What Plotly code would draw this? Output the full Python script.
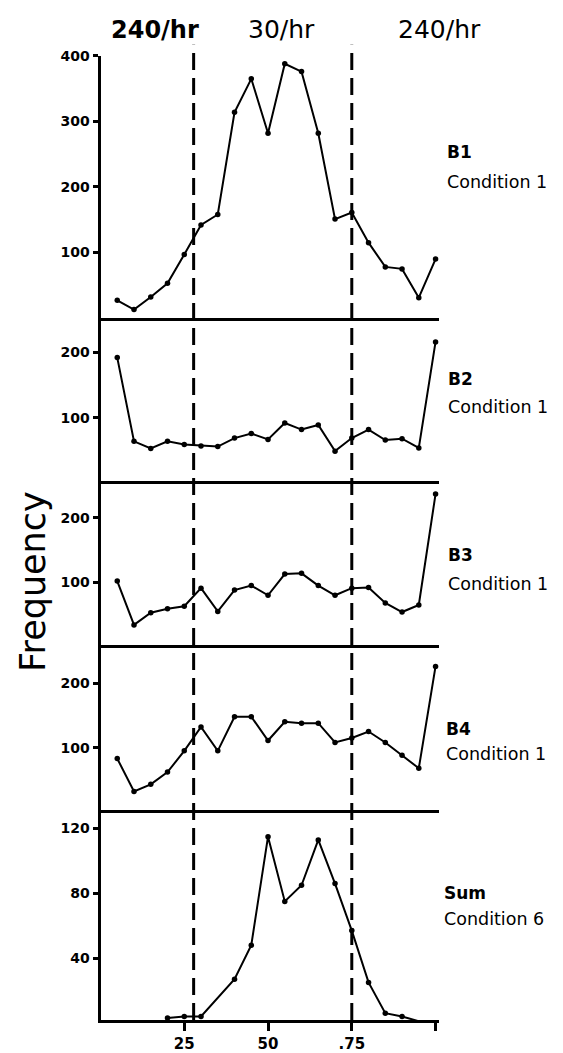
import plotly.graph_objects as go

# ---------------- data ----------------
x_bins = [0.05, 0.10, 0.15, 0.20, 0.25, 0.30, 0.35, 0.40, 0.45, 0.50,
          0.55, 0.60, 0.65, 0.70, 0.75, 0.80, 0.85, 0.90, 0.95, 1.00]

b1_cond1 = [27, 13, 32, 53, 97, 142, 158, 314, 365, 282,
            388, 376, 282, 151, 161, 115, 78, 75, 31, 90]
b2_cond1 = [192, 64, 53, 64, 59, 57, 56, 69, 76, 67,
            92, 82, 89, 49, 69, 82, 66, 68, 54, 216]
b3_cond1 = [102, 34, 53, 59, 63, 91, 55, 88, 95, 80,
            113, 114, 95, 80, 91, 92, 68, 54, 65, 237]
b4_cond1 = [83, 32, 43, 62, 95, 132, 95, 148, 148, 111,
            140, 138, 138, 108, 115, 125, 108, 88, 68, 226]

sum_x = [0.20, 0.25, 0.30, 0.40, 0.45, 0.50, 0.55, 0.60, 0.65, 0.70,
         0.75, 0.80, 0.85, 0.90, 0.95]
sum_cond6 = [3, 4, 4, 27, 48, 115, 75, 85, 113, 86,
             57, 25, 6, 4, 1]

panel_names = ["B1", "B2", "B3", "B4", "Sum"]
panel_conditions = ["Condition 1", "Condition 1", "Condition 1", "Condition 1", "Condition 6"]
panel_ticks = [[100, 200, 300, 400], [100, 200], [100, 200], [100, 200], [40, 80, 120]]

rate_labels = ["240/hr", "30/hr", "240/hr"]
boundaries = [0.278, 0.75]
x_tickvals = [0.25, 0.50, 0.75, 1.00]
x_ticktext = ["25", "50", ".75", ""]
y_title = "Frequency"

# ---------------- layout geometry (pixels) ----------------
W, H = 563, 1053
def fy(py):
    return 1 - py / H

x_left_px, x_right_px = 100.5, 438.9
x_range = [0, 1.01]

# (top px, bottom px, y range)
panels = [
    (48.3, 312.7, [0, 400]),
    (314.0, 477.0, [3.5, 250.5]),
    (477.3, 642.7, [2.5, 257.0]),
    (642.7, 809.0, [3.1, 258.9]),
    (809.0, 1020.7, [1.8, 131.4]),
]

series = [(x_bins, b1_cond1), (x_bins, b2_cond1), (x_bins, b3_cond1),
          (x_bins, b4_cond1), (sum_x, sum_cond6)]

fig = go.Figure()
layout = dict(
    width=W, height=H,
    margin=dict(l=0, r=0, t=0, b=0),
    paper_bgcolor="white", plot_bgcolor="white",
    showlegend=False,
    font=dict(family="DejaVu Sans", color="black"),
)

tickfont = dict(family="DejaVu Sans", size=14, color="black", weight="bold")

for i, ((top, bot, yr), (xs, ys)) in enumerate(zip(panels, series)):
    n = "" if i == 0 else str(i + 1)
    fig.add_trace(go.Scatter(
        x=xs, y=ys, mode="lines+markers",
        xaxis="x" + n, yaxis="y" + n,
        line=dict(color="black", width=2),
        marker=dict(color="black", size=5.5),
        cliponaxis=False,
    ))
    last = (i == len(panels) - 1)
    layout["xaxis" + n] = dict(
        domain=[x_left_px / W, x_right_px / W], range=x_range,
        anchor="y" + n, showgrid=False, zeroline=False,
        showline=True, linecolor="black", linewidth=3,
        ticks="outside" if last else "", ticklen=8, tickwidth=2.5, tickcolor="black",
        tickvals=x_tickvals if last else [], ticktext=x_ticktext if last else [],
        showticklabels=last, tickfont=dict(family="DejaVu Sans", size=15, color="black", weight="bold"),
        fixedrange=True,
    )
    layout["yaxis" + n] = dict(
        domain=[fy(bot), fy(top)], range=yr,
        anchor="x" + n, showgrid=False, zeroline=False,
        showline=True, linecolor="black", linewidth=3,
        ticks="outside", ticklen=5, tickwidth=2.5, tickcolor="black",
        tickvals=panel_ticks[i], ticktext=[str(v) for v in panel_ticks[i]],
        tickfont=tickfont, fixedrange=True,
    )

fig.update_layout(**layout)

# dashed boundary lines
for bx in boundaries:
    fig.add_shape(type="line", xref="x", yref="paper",
                  x0=bx, x1=bx, y0=fy(1020.7), y1=fy(37),
                  line=dict(color="black", width=3, dash="17px,8px"))

# rate labels at top
rate_pos = [(155, True, 24), (281, False, 25), (439.5, False, 25)]
for txt, (px, bold, sz) in zip(rate_labels, rate_pos):
    fig.add_annotation(x=px / W, y=fy(21.7), xref="paper", yref="paper",
                       text=txt, showarrow=False, xanchor="center", yanchor="middle",
                       font=dict(family="DejaVu Sans", size=sz, color="black",
                                 weight="bold" if bold else "normal"))

# panel labels on right
name_pos = [(445, 145, 175), (446, 374, 402.7), (446, 551.7, 581), (444, 727, 752.7), (441.6, 892.7, 919)]
for name, cond, (px, py1, py2) in zip(panel_names, panel_conditions, name_pos):
    fig.add_annotation(x=px / W, y=fy(py1), xref="paper", yref="paper",
                       text=name, showarrow=False, xanchor="left", yanchor="middle",
                       font=dict(family="DejaVu Sans", size=17, color="black", weight="bold"))
    fig.add_annotation(x=px / W, y=fy(py2), xref="paper", yref="paper",
                       text=cond, showarrow=False, xanchor="left", yanchor="middle",
                       font=dict(family="DejaVu Sans", size=17.5, color="black"))

# y title
fig.add_annotation(x=33 / W, y=fy(579), xref="paper", yref="paper",
                   text=y_title, showarrow=False, textangle=-90,
                   xanchor="center", yanchor="middle",
                   font=dict(family="DejaVu Sans", size=35, color="black"))

fig.write_html("out.html", config={"displayModeBar": False},
               post_script="document.body.style.margin='0px';")
